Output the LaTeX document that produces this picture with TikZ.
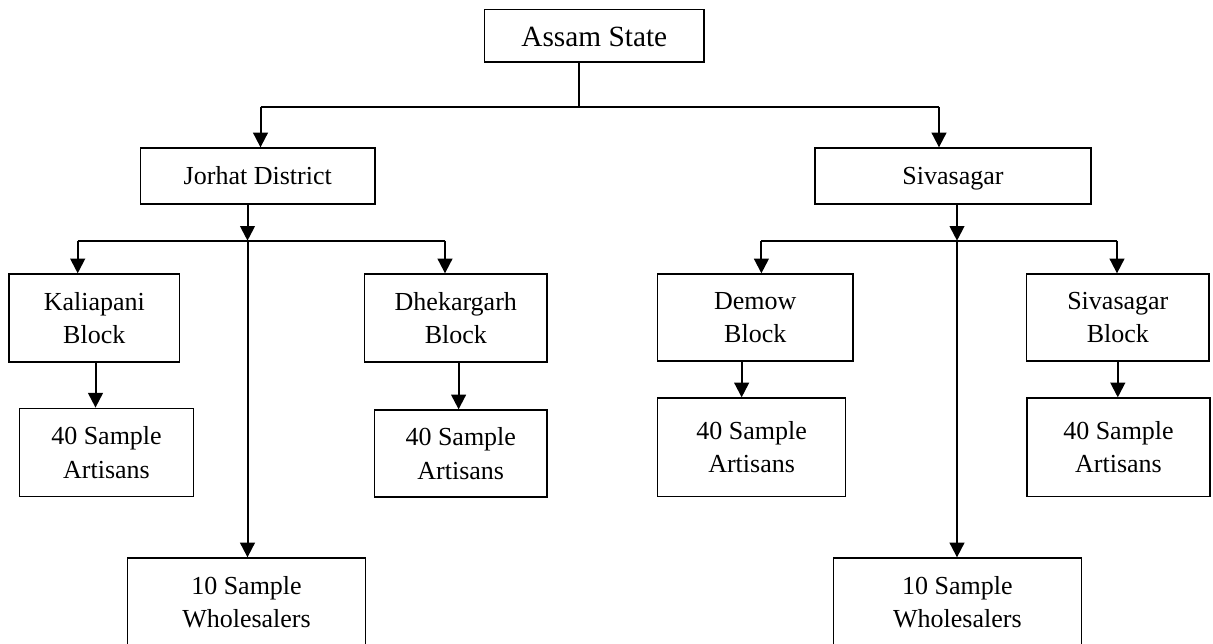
\documentclass[tikz,border=0pt]{standalone}
\usepackage{fontspec}
\setmainfont{Liberation Serif}
\usetikzlibrary{arrows.meta,calc}
\begin{document}
\begin{tikzpicture}[x=0.75pt,y=-0.75pt,
  box/.style={draw,line width=1pt,inner sep=0pt,align=center,
    font=\fontsize{19.5pt}{25pt}\selectfont},
  one/.style={text height=13pt,text depth=1pt},
  arr/.style={line width=1.5pt,-{Triangle[length=11pt,width=11pt]}},
  ln/.style={line width=1.5pt}]
\useasboundingbox (0,0) rectangle (1213,643);
% nodes
\node[box,text height=16pt,text depth=0pt,minimum width=164.6pt,minimum height=39.5pt,font=\fontsize{22pt}{26pt}\selectfont] (assam) at (594.3,35.7) {Assam State};
\node[box,one,minimum width=175.9pt,minimum height=42pt] (jorhat) at (257.75,176) {Jorhat District};
\node[box,one,minimum width=207pt,minimum height=42pt] (siva) at (953,176) {Sivasagar};
\node[box,minimum width=128pt,minimum height=66pt] (kali) at (94.3,318) {Kaliapani\\Block};
\node[box,minimum width=136.8pt,minimum height=66pt] (dhek) at (455.8,318) {Dhekargarh\\Block};
\node[box,minimum width=146.6pt,minimum height=65.25pt] (demow) at (755.25,317.5) {Demow\\Block};
\node[box,minimum width=136.8pt,minimum height=65.25pt] (sivb) at (1117.8,317.5) {Sivasagar\\Block};
\node[box,minimum width=130.7pt,minimum height=66.3pt] (art1) at (106.5,452.5) {40 Sample\\Artisans};
\node[box,minimum width=129.4pt,minimum height=65.25pt] (art2) at (460.75,453.5) {40 Sample\\Artisans};
\node[box,minimum width=141.3pt,minimum height=74pt] (art3) at (751.6,447.35) {40 Sample\\Artisans};
\node[box,minimum width=137.25pt,minimum height=74pt] (art4) at (1118.5,447.35) {40 Sample\\Artisans};
\node[box,minimum width=178.8pt,minimum height=69pt] (whol1) at (246.5,604) {\raisebox{3pt}{\begin{tabular}{@{}c@{}}10 Sample\\Wholesalers\end{tabular}}};
\node[box,minimum width=185.8pt,minimum height=69pt] (whol2) at (957.4,604) {\raisebox{3pt}{\begin{tabular}{@{}c@{}}10 Sample\\Wholesalers\end{tabular}}};
% junction coordinates
\coordinate (top) at (578.5,106.7);
\coordinate (jl) at (260.5,106.7);
\coordinate (sr) at (939,106.7);
\coordinate (jj) at (247.5,240.7);
\coordinate (jL) at (77.7,240.7);
\coordinate (jR) at (445,240.7);
\coordinate (sj) at (957,240.7);
\coordinate (sL) at (761.4,240.7);
\coordinate (sR) at (1117,240.7);
\coordinate (k1) at ($(kali.south)+(1.2,0)$);
\coordinate (d1) at ($(dhek.south)+(2.8,0)$);
\coordinate (m1) at ($(demow.south)+(-13.6,0)$);
\coordinate (v1) at (sivb.south);
% level 1
\draw[ln] (assam.south -| top) -- (top);
\draw[ln] (jl) -- (sr);
\draw[arr] (jl) -- (jl |- jorhat.north);
\draw[arr] (sr) -- (sr |- siva.north);
% Jorhat branch
\draw[arr] (jj |- jorhat.south) -- (jj);
\draw[ln] (jL) -- (jR);
\draw[arr] (jL) -- (jL |- kali.north);
\draw[arr] (jR) -- (jR |- dhek.north);
\draw[arr] (jj) -- (jj |- whol1.north);
% Sivasagar branch
\draw[arr] (sj |- siva.south) -- (sj);
\draw[ln] (sL) -- (sR);
\draw[arr] (sL) -- (sL |- demow.north);
\draw[arr] (sR) -- (sR |- sivb.north);
\draw[arr] (sj) -- (sj |- whol2.north);
% blocks to artisans
\draw[arr] (k1) -- (k1 |- art1.north);
\draw[arr] (d1) -- (d1 |- art2.north);
\draw[arr] (m1) -- (m1 |- art3.north);
\draw[arr] (v1) -- (v1 |- art4.north);
\end{tikzpicture}
\end{document}
